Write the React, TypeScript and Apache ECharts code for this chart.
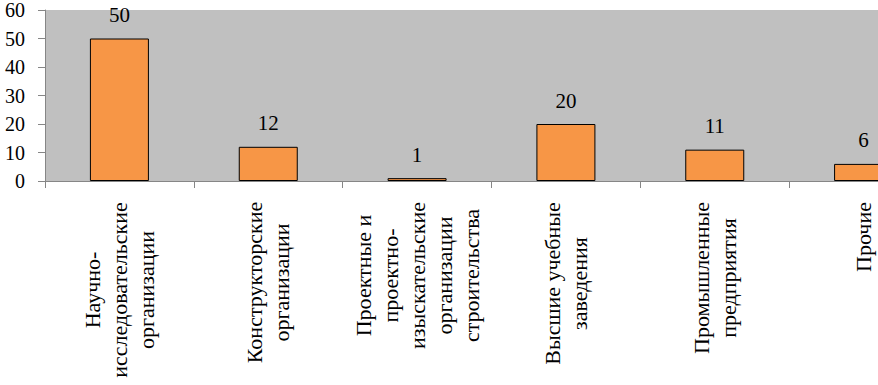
import React, { useEffect, useRef } from "react";
import * as echarts from "echarts";

const categories = [
  "Научно-\nисследовательские\nорганизации",
  "Конструкторские\nорганизации",
  "Проектные и\nпроектно-\nизыскательские\nорганизации\nстроительства",
  "Высшие учебные\nзаведения",
  "Промышленные\nпредприятия",
  "Прочие",
];
const values = [50, 12, 1, 20, 11, 6];
const yTicks = [0, 10, 20, 30, 40, 50, 60];

const FONT = "Liberation Serif, DejaVu Serif, serif";
const LABEL_SIZE = 22;

function maxLineWidth(text: string): number {
  const canvas = document.createElement("canvas");
  const ctx = canvas.getContext("2d");
  if (!ctx) return 0;
  ctx.font = `${LABEL_SIZE}px ${FONT}`;
  return Math.max(...text.split("\n").map((l) => ctx.measureText(l).width));
}

export default function App() {
  const ref = useRef<HTMLDivElement>(null);
  useEffect(() => {
    if (!ref.current) return;
    const chart = echarts.init(ref.current, undefined, { renderer: "svg" });
    const catData = categories.map((c) => ({
      value: c,
      textStyle: {
        align: "center",
        padding: [0, Math.round(maxLineWidth(c)), 0, 0],
      },
    }));
    chart.setOption({
      animation: false,
      backgroundColor: "#ffffff",
      grid: {
        left: 45,
        top: 8,
        width: 893,
        height: 173,
        show: true,
        backgroundColor: "#c0c0c0",
        borderWidth: 0,
      },
      xAxis: {
        type: "category",
        data: catData,
        boundaryGap: true,
        axisLine: { show: true, lineStyle: { color: "#868686", width: 1 } },
        axisTick: { show: true, length: 7, lineStyle: { color: "#868686" } },
        axisLabel: {
          interval: 0,
          rotate: 90,
          margin: 21,
          align: "center",
          verticalAlign: "middle",
          color: "#000",
          fontFamily: FONT,
          fontSize: LABEL_SIZE,
          lineHeight: 27,
        },
      },
      yAxis: {
        type: "value",
        min: yTicks[0],
        max: yTicks[yTicks.length - 1],
        interval: 10,
        splitLine: { show: false },
        axisLine: { show: true, lineStyle: { color: "#868686", width: 1 } },
        axisTick: { show: true, length: 7, lineStyle: { color: "#868686" } },
        axisLabel: {
          margin: 20,
          color: "#000",
          fontFamily: FONT,
          fontSize: 20,
        },
      },
      series: [
        {
          type: "bar",
          data: values,
          barWidth: 59,
          itemStyle: {
            color: "#f79646",
            borderColor: "#000",
            borderWidth: 1,
          },
          label: {
            show: true,
            position: "top",
            distance: 13,
            color: "#000",
            fontFamily: FONT,
            fontSize: 21,
          },
        },
      ],
    });
    return () => chart.dispose();
  }, []);
  return (
    <div
      ref={ref}
      style={{ position: "fixed", left: 0, top: 0, width: 940, height: 385 }}
    />
  );
}
